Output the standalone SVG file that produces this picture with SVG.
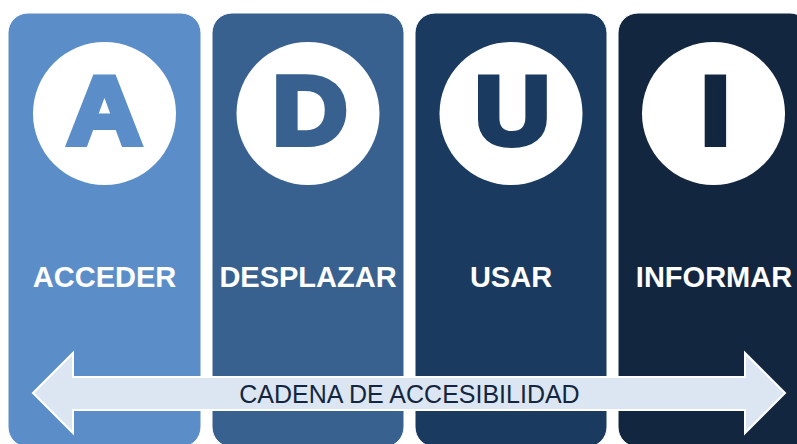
<svg xmlns="http://www.w3.org/2000/svg" width="797" height="444" viewBox="0 0 797 444">
<style>
.col{stroke:#ffffff;stroke-width:1}
.circ{fill:#ffffff}
.big{font-family:"Liberation Sans",Arial,sans-serif;font-weight:bold;font-size:96px;text-anchor:middle;stroke-width:6;stroke-linejoin:miter;stroke-miterlimit:2}
.lbl{font-family:"Liberation Sans",Arial,sans-serif;font-weight:bold;font-size:29px;fill:#ffffff;text-anchor:middle}
.chain{font-family:"Liberation Sans",Arial,sans-serif;font-size:25px;fill:#14263f;text-anchor:middle}
</style>
<rect width="797" height="444" fill="#ffffff"/>
<g id="node-acceder">
<rect class="col" x="8" y="13" width="193" height="434" rx="20" fill="#5b8ec9"/>
<circle class="circ" cx="104.5" cy="113.5" r="71.5"/>
<text class="big" transform="translate(104.5,144) scale(1.08,1)" x="0" y="0" fill="#5b8ec9" stroke="#5b8ec9">A</text>
<text class="lbl" x="104.5" y="287">ACCEDER</text>
</g>
<g id="node-desplazar">
<rect class="col" x="212" y="13" width="192" height="434" rx="20" fill="#386190"/>
<circle class="circ" cx="308" cy="113.5" r="71.5"/>
<text class="big" transform="translate(310,144) scale(1.08,1)" x="0" y="0" fill="#386190" stroke="#386190">D</text>
<text class="lbl" x="308" y="287">DESPLAZAR</text>
</g>
<g id="node-usar">
<rect class="col" x="415" y="13" width="192" height="434" rx="20" fill="#1a3a60"/>
<circle class="circ" cx="511" cy="113.5" r="71.5"/>
<text class="big" transform="translate(512.5,144) scale(1.08,1)" x="0" y="0" fill="#1a3a60" stroke="#1a3a60">U</text>
<text class="lbl" x="511" y="287">USAR</text>
</g>
<g id="node-informar">
<rect class="col" x="618" y="13" width="192" height="434" rx="20" fill="#13263f"/>
<circle class="circ" cx="713.5" cy="113.5" r="71.5"/>
<text class="big" transform="translate(715.5,144) scale(1.08,1)" x="0" y="0" fill="#13263f" stroke="#13263f">I</text>
<text class="lbl" x="714" y="287">INFORMAR</text>
</g>
<g id="connectors">
<polygon points="33,393 73,353 73,377 745,377 745,353 785,393 745,433 745,410 73,410 73,433" fill="#dce6f2" stroke="#ffffff" stroke-width="2" stroke-linejoin="miter"/>
<text class="chain" x="409.5" y="403">CADENA DE ACCESIBILIDAD</text>
</g>
</svg>
